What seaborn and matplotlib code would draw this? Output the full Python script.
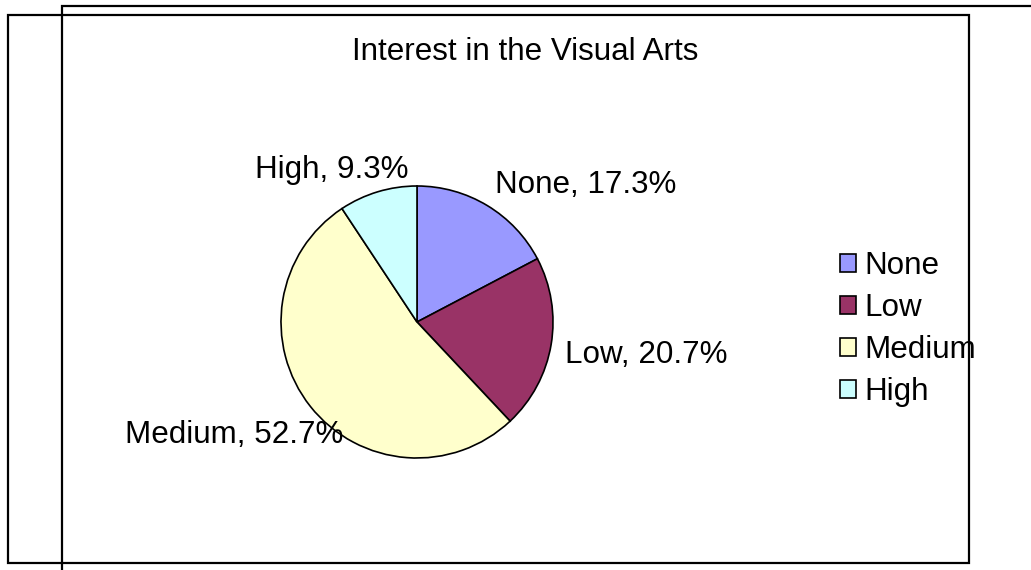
import matplotlib
matplotlib.use("Agg")
import matplotlib.pyplot as plt
import seaborn as sns
from matplotlib.patches import Rectangle

# data
categories = ["None", "Low", "Medium", "High"]
shares = [17.3, 20.7, 52.7, 9.3]
colors = ["#9999FF", "#993366", "#FFFFCC", "#CCFFFF"]
title = "Interest in the Visual Arts"

sns.set_theme(style="white")
plt.rcParams['font.family'] = ['Liberation Sans', 'DejaVu Sans']
plt.rcParams['text.color'] = 'black'

W, H = 1031, 570
fig = plt.figure(figsize=(W / 100, H / 100), dpi=100)
ax = fig.add_axes([0, 0, 1, 1])

# pie centred in pixel units (y measured up from bottom)
wedges, _ = ax.pie(shares, colors=colors, startangle=90, counterclock=False,
                   center=(417, H - 322), radius=136,
                   wedgeprops=dict(edgecolor="black", linewidth=1.2))
ax.set_xlim(0, W)
ax.set_ylim(0, H)
ax.set_aspect("auto")
ax.axis("off")

fs = 22.6
# data labels, placed like the Excel original (left x, baseline y in pixels)
label_pos = {"None": (495, 193), "Low": (565, 363), "Medium": (125, 443), "High": (255, 178)}
for cat, val in zip(categories, shares):
    x, y = label_pos[cat]
    ax.text(x, H - y, f"{cat}, {val:.1f}%", fontsize=fs, color="black",
            ha="left", va="baseline", zorder=5)

ax.text(525, H - 60, title, fontsize=fs, color="black", ha="center", va="baseline")

leg = ax.legend(wedges, categories, loc="upper left", bbox_to_anchor=(840, H - 251),
                bbox_transform=ax.transData, frameon=False, fontsize=fs,
                handlelength=0.5, handleheight=0.5, handletextpad=0.28,
                labelspacing=0.38, borderpad=0, borderaxespad=0)
for t in leg.get_texts():
    t.set_color("black")

# chart frames
ax.add_patch(Rectangle((8, H - 563), 961, 548, fill=False, edgecolor="black", linewidth=1.6, zorder=0))
ax.plot([62, 62, W], [0, H - 6, H - 6], color="black", linewidth=1.6, solid_joinstyle="miter")

fig.savefig("out.png", dpi=100)
